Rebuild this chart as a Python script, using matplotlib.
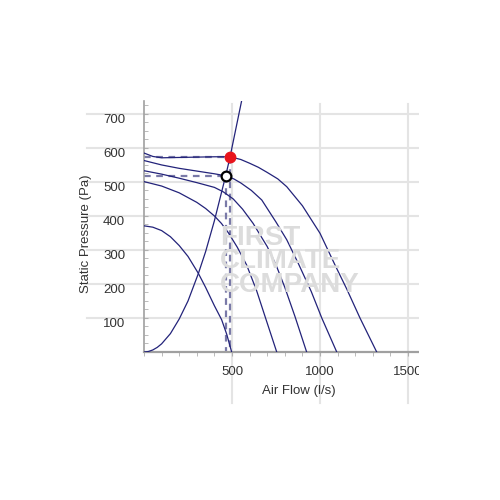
import matplotlib
matplotlib.use("Agg")
import matplotlib.pyplot as plt
from matplotlib.transforms import ScaledTranslation
from matplotlib.patches import Rectangle
from matplotlib.ticker import MultipleLocator, FixedLocator

plt.rcParams['font.family'] = ['Liberation Sans', 'DejaVu Sans']

# fan curves (flow l/s, pressure Pa)
flow_1 = [0, 50, 100, 200, 300, 400, 489, 550, 600, 650, 700, 760, 811, 900, 1000, 1085, 1152, 1227, 1322]
pres_1 = [585, 575, 571, 572, 573, 574, 574, 566, 555, 543, 528, 509, 486, 430, 349, 256, 185, 100, 0]
flow_2 = [0, 100, 200, 300, 400, 464, 510, 550, 610, 669, 750, 811, 877, 950, 1010, 1095]
pres_2 = [563, 550, 540, 532, 524, 518, 509, 497, 475, 447, 382, 330, 260, 178, 100, 0]
flow_3 = [0, 100, 200, 300, 400, 450, 507, 560, 620, 700, 750, 800, 858, 924]
pres_3 = [533, 523, 511, 498, 484, 471, 450, 420, 378, 310, 256, 190, 104, 0]
flow_4 = [0, 100, 200, 300, 350, 400, 440, 480, 530, 583, 640, 688, 754]
pres_4 = [501, 488, 468, 440, 422, 400, 378, 350, 308, 256, 180, 104, 0]
flow_5 = [0, 50, 100, 150, 200, 250, 309, 350, 400, 441, 470, 498]
pres_5 = [371, 367, 357, 339, 313, 281, 231, 190, 136, 95, 52, 0]

# system curve
flow_sys = [0, 25, 50, 75, 100, 150, 200, 250, 309, 350, 400, 464, 489, 560]
pres_sys = [0, 1.5, 6, 13.5, 24, 54, 97, 150, 231, 295, 386, 518, 574, 752]

# duty points
duty_flow = 489
duty_pres = 574
op_flow = 464
op_pres = 518

x_ticks = [500, 1000, 1500]
y_ticks = [100, 200, 300, 400, 500, 600, 700]

curve_col = "#23237a"
dash_col = "#7a7aa8"
grid_col = "#e4e4e4"

fig = plt.figure(figsize=(5, 5), dpi=100)
ax = fig.add_axes([0.288, 0.296, 0.552, 0.502])
ax.set_xlim(0, 1568)
ax.set_ylim(0, 738)

# grid, drawn a bit past the axes like the original
for y in y_ticks:
    ax.axhline(y, xmin=-0.2065, xmax=1, color=grid_col, lw=1.5, clip_on=False, zorder=0)
for x in x_ticks:
    ax.axvline(x, ymin=-0.203, ymax=0.99, color=grid_col, lw=1.5, clip_on=False, zorder=0)

# watermark
fig.text(220 / 500, 1 - 292 / 500, "FIRST\nCLIMATE\nCOMPANY", color="#dcdcdc", fontsize=20,
         fontweight="bold", linespacing=0.88, ha="left", va="baseline", zorder=0.5)

for fx, py in [(flow_1, pres_1), (flow_2, pres_2), (flow_3, pres_3),
               (flow_4, pres_4), (flow_5, pres_5), (flow_sys, pres_sys)]:
    ax.plot(fx, py, color=curve_col, lw=0.9, zorder=3)

# dashed guide lines
for fl, pr in [(duty_flow, duty_pres), (op_flow, op_pres)]:
    ax.plot([0, fl], [pr, pr], color=dash_col, lw=1.6, ls=(0, (3, 2.5)), zorder=2)
    ax.plot([fl, fl], [pr, 0], color=dash_col, lw=1.6, ls=(0, (3, 2.5)), zorder=2)

ax.plot(duty_flow, duty_pres, 'o', ms=7.5, color="#e8141c", mec="#e8141c", zorder=5)
ax.plot(op_flow, op_pres, 'o', ms=7, mfc="white", mec="black", mew=1.6, zorder=5)

for s in ['top', 'right']:
    ax.spines[s].set_visible(False)
ax.spines['left'].set_color("#a0a0a0")
ax.spines['left'].set_linewidth(1.2)
ax.spines['bottom'].set_color("#a0a0a0")
ax.spines['bottom'].set_linewidth(1.6)

ax.xaxis.set_major_locator(FixedLocator(x_ticks))
ax.xaxis.set_minor_locator(MultipleLocator(100))
ax.yaxis.set_major_locator(FixedLocator(y_ticks))
ax.yaxis.set_minor_locator(MultipleLocator(25))
ax.tick_params(axis='x', which='both', direction='out', length=3, color="#b0b0b0",
               labelsize=9.5, labelcolor="#333333", pad=7)
ax.tick_params(axis='y', which='both', direction='in', length=3, color="#b0b0b0",
               labelsize=9.5, labelcolor="#333333", pad=13.5)

for lab in ax.get_yticklabels():
    lab.set_transform(lab.get_transform() + ScaledTranslation(0, -5 / 100, fig.dpi_scale_trans))

fig.text(86 / 500, 1 - 234 / 500, "Static Pressure (Pa)", rotation=90, ha="center",
         va="center", fontsize=9.5, color="#333333")
fig.text(299 / 500, 1 - 391 / 500, "Air Flow (l/s)", ha="center", va="center",
         fontsize=9.5, color="#333333")

# the original is cut off on the right
fig.patches.append(Rectangle((419 / 500, 0), 81 / 500, 1, transform=fig.transFigure,
                             facecolor="white", edgecolor="none", zorder=10))

fig.savefig("out.png", dpi=100, facecolor="white")
